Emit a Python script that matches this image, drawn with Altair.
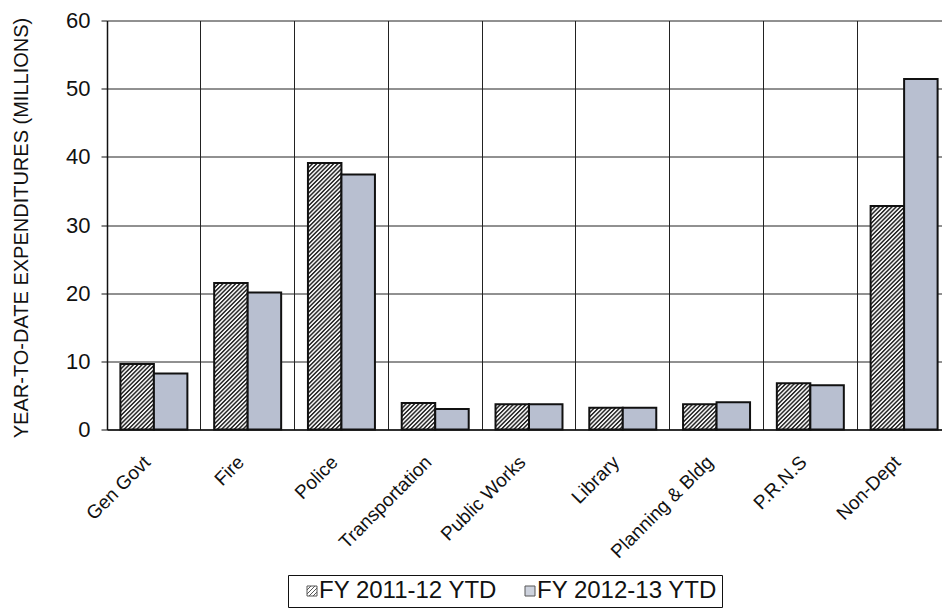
import base64

import altair as alt
import pandas as pd

# ---- data -------------------------------------------------------------
departments = [
    "Gen Govt", "Fire", "Police", "Transportation", "Public Works",
    "Library", "Planning & Bldg", "P.R.N.S", "Non-Dept",
]
fy_2011_12 = [9.6, 21.5, 39.1, 3.9, 3.7, 3.2, 3.7, 6.8, 32.8]
fy_2012_13 = [8.2, 20.1, 37.4, 3.0, 3.7, 3.2, 4.0, 6.5, 51.4]
series_names = ["FY 2011-12 YTD", "FY 2012-13 YTD"]
y_ticks = [0, 10, 20, 30, 40, 50, 60]

rows = []
for dept, prev, curr in zip(departments, fy_2011_12, fy_2012_13):
    rows.append({"Department": dept, "Series": series_names[0], "Value": prev})
    rows.append({"Department": dept, "Series": series_names[1], "Value": curr})
df = pd.DataFrame(rows)

# ---- styling ------------------------------------------------------------
FONT = "Liberation Sans"
INK = "#111111"
GRID = "#222222"
BLUE_GRAY = "#b8bfd0"

# diagonal hatch fill, drawn at its natural pixel scale inside each bar
HATCH_SVG = (
    "<svg xmlns='http://www.w3.org/2000/svg'>"
    "<defs><pattern id='h' width='3' height='3' patternUnits='userSpaceOnUse' "
    "patternTransform='rotate(45)'>"
    "<rect width='3' height='3' fill='#f3f3f3'/>"
    "<rect width='1.45' height='3' fill='#262626'/>"
    "</pattern></defs>"
    "<rect width='100%' height='100%' fill='url(#h)'/></svg>"
)
hatch_url = "data:image/svg+xml;base64," + base64.b64encode(HATCH_SVG.encode()).decode()

# hatched square used as the legend symbol of the first series
hatch_symbol = (
    "M-1,-1H1V1H-1Z"
    "M-1,-0.2L-0.2,-1"
    "M-1,0.6L0.6,-1"
    "M-0.6,1L1,-0.6"
    "M0.2,1L1,0.2"
)

legend = alt.Legend(
    title=None,
    orient="none",
    legendX=181,
    legendY=554.5,
    direction="horizontal",
    symbolSize=100,
    symbolStrokeColor=INK,
    symbolStrokeWidth=1,
    symbolOffset=8,
    labelFont=FONT,
    labelFontSize=24,
    labelColor=INK,
    labelOffset={"expr": "-5"},
    labelLimit=500,
    columnPadding=12,
    padding=4,
    strokeColor=INK,
    fillColor="white",
)

x_enc = alt.X(
    "Department:N",
    sort=departments,
    scale=alt.Scale(range=[0, 844], paddingInner=0, paddingOuter=0),
    axis=alt.Axis(
        title=None,
        grid=True,
        gridColor=GRID,
        gridWidth=1,
        bandPosition=0,
        ticks=False,
        domainColor=INK,
        domainWidth=1.5,
        labelAngle=-45,
        labelAlign="right",
        labelBaseline="top",
        labelPadding=23,
        labelOffset=-13,
        labelFont=FONT,
        labelFontSize=19,
        labelColor=INK,
    ),
)
x_off = alt.XOffset(
    "Series:N",
    sort=series_names,
    scale=alt.Scale(paddingInner=0, paddingOuter=0.4),
)
y_enc = alt.Y(
    "Value:Q",
    scale=alt.Scale(domain=[0, 60], nice=False),
    axis=alt.Axis(
        values=y_ticks,
        title="YEAR-TO-DATE EXPENDITURES (MILLIONS)",
        titleFont=FONT,
        titleFontSize=20,
        titleFontWeight="normal",
        titleColor=INK,
        titleAngle=270,
        titleAlign="center",
        titleBaseline="middle",
        titleX=-86,
        titleY=207,
        grid=True,
        gridColor=GRID,
        gridWidth=1,
        domainColor=INK,
        domainWidth=1.5,
        tickColor=INK,
        tickSize=6,
        labelFont=FONT,
        labelFontSize=22,
        labelColor=INK,
        labelPadding=11,
    ),
)
fill_enc = alt.Fill(
    "Series:N",
    sort=series_names,
    scale=alt.Scale(domain=series_names, range=["transparent", BLUE_GRAY]),
    legend=legend,
)

base = alt.Chart(df)

# hatch texture under the first series' bars
hatch = base.transform_filter(
    alt.datum.Series == series_names[0]
).mark_image(aspect=False).encode(
    x=x_enc,
    xOffset=x_off,
    y=y_enc,
    y2=alt.datum(0),
    url=alt.value(hatch_url),
)

bars = base.mark_bar(stroke=INK, strokeWidth=2).encode(
    x=x_enc,
    xOffset=x_off,
    y=y_enc,
    fill=fill_enc,
)

# empty layer that only contributes symbol shapes to the legend
legend_keys = base.transform_filter("false").mark_point(
    filled=True, stroke=INK, strokeWidth=1
).encode(
    x=x_enc,
    y=y_enc,
    fill=fill_enc,
    shape=alt.Shape(
        "Series:N",
        sort=series_names,
        scale=alt.Scale(domain=series_names, range=[hatch_symbol, "square"]),
        legend=legend,
    ),
)

chart = alt.layer(hatch, bars, legend_keys).properties(
    width=835,
    height=409,
    autosize=alt.AutoSizeParams(type="none"),
    padding={"left": 107, "top": 20.5, "right": 0, "bottom": 186.5},
    background="white",
).configure_view(stroke=None)

chart.save("out.html", embed_options={"renderer": "svg", "actions": False})
